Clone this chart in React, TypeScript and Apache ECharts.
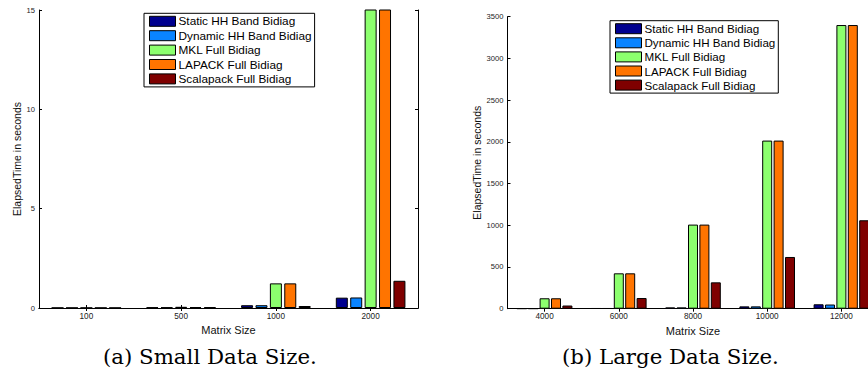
import React, { useEffect, useRef } from "react";
import * as echarts from "echarts";

const seriesNames = [
  "Static HH Band Bidiag",
  "Dynamic HH Band Bidiag",
  "MKL Full Bidiag",
  "LAPACK Full Bidiag",
  "Scalapack Full Bidiag",
];
const colors = ["#00008F", "#0A84FF", "#8CFF6E", "#FF7400", "#7F0000"];

// (a) Small data size
const smallSizes = ["100", "500", "1000", "2000"];
const smallStatic = [0.01, 0.03, 0.14, 0.52];
const smallDynamic = [0.01, 0.03, 0.14, 0.53];
const smallMKL = [0.01, 0.06, 1.24, 16.5];
const smallLAPACK = [0.01, 0.05, 1.24, 16.5];
const smallScalapack = [0.01, 0.04, 0.1, 1.37];
const smallTicks = { min: 0, max: 15, interval: 5 };

// (b) Large data size
const largeSizes = ["4000", "6000", "8000", "10000", "12000"];
const largeStatic = [2, 5, 15, 28, 53];
const largeDynamic = [2, 5, 15, 28, 50];
const largeMKL = [125, 424, 1008, 2015, 3400];
const largeLAPACK = [125, 424, 1008, 2015, 3400];
const largeScalapack = [38, 128, 316, 620, 1060];
const largeTicks = { min: 0, max: 3500, interval: 500 };

const smallData = [smallStatic, smallDynamic, smallMKL, smallLAPACK, smallScalapack];
const largeData = [largeStatic, largeDynamic, largeMKL, largeLAPACK, largeScalapack];

const FONT = "Liberation Sans";

export default function App() {
  const ref = useRef<HTMLDivElement>(null);
  useEffect(() => {
    if (!ref.current) return;
    const chart = echarts.init(ref.current, null, { renderer: "svg" });
    const axisLine = { show: true, lineStyle: { color: "#000", width: 1 } };
    const catAxis = (grid: number, data: string[], top: boolean) => ({
      type: "category",
      gridIndex: grid,
      data,
      position: top ? "top" : "bottom",
      boundaryGap: true,
      axisLine,
      axisTick: { show: true, inside: true, alignWithLabel: true, length: 3, lineStyle: { color: "#000" } },
      axisLabel: top
        ? { show: false }
        : { show: true, color: "#222", fontSize: 8.2, fontFamily: FONT, margin: 4 },
      splitLine: { show: false },
      name: top ? "" : "Matrix Size",
      nameLocation: "middle",
      nameGap: 14,
      nameTextStyle: { color: "#111", fontSize: 11, fontFamily: FONT },
    });
    const valAxis = (grid: number, t: any, right: boolean, nameGap: number) => ({
      type: "value",
      gridIndex: grid,
      position: right ? "right" : "left",
      min: t.min,
      max: t.max,
      interval: t.interval,
      axisLine,
      axisTick: { show: true, inside: true, length: 3, lineStyle: { color: "#000" } },
      axisLabel: right
        ? { show: false }
        : { show: true, color: "#222", fontSize: 7.6, fontFamily: FONT, margin: 4, formatter: (v: number) => String(v) },
      splitLine: { show: false },
      name: right ? "" : "ElapsedTime in seconds",
      nameLocation: "middle",
      nameGap,
      nameTextStyle: { color: "#111", fontSize: 10.5, fontFamily: FONT },
    });

    const series: any[] = [];
    seriesNames.forEach((name, i) => {
      series.push({
        type: "bar",
        name,
        xAxisIndex: 0,
        yAxisIndex: 0,
        data: smallData[i],
        barWidth: 12,
        barGap: "20%",
        clip: true,
        itemStyle: { color: colors[i], borderColor: "#000", borderWidth: 1 },
      });
    });
    seriesNames.forEach((name, i) => {
      series.push({
        type: "bar",
        name,
        xAxisIndex: 2,
        yAxisIndex: 2,
        data: largeData[i],
        barWidth: 10,
        barGap: "14%",
        clip: true,
        itemStyle: { color: colors[i], borderColor: "#000", borderWidth: 1 },
      });
    });

    const legend = (left: number, top: number, fontSize: number, gap: number) => ({
      data: seriesNames.map((n) => ({ name: n, icon: "rect" })),
      orient: "vertical",
      left,
      top,
      itemWidth: 26,
      itemHeight: 10,
      itemGap: gap,
      padding: [2, 3, 2, 5],
      backgroundColor: "#fff",
      borderColor: "#000",
      borderWidth: 1,
      borderRadius: 0,
      selectedMode: false,
      itemStyle: { borderColor: "#000", borderWidth: 1 },
      textStyle: { color: "#000", fontSize, fontFamily: FONT, lineHeight: 12, padding: [0, 0, 0, -2] },
    });

    chart.setOption({
      animation: false,
      backgroundColor: "#fff",
      grid: [
        { left: 39, top: 10, width: 379, height: 298, containLabel: false },
        { left: 507.5, top: 16.7, width: 371, height: 292, containLabel: false },
      ],
      xAxis: [
        catAxis(0, smallSizes, false),
        catAxis(0, smallSizes, true),
        catAxis(1, largeSizes, false),
        catAxis(1, largeSizes, true),
      ],
      yAxis: [
        valAxis(0, smallTicks, false, 17),
        valAxis(0, smallTicks, true, 0),
        valAxis(1, largeTicks, false, 25),
        valAxis(1, largeTicks, true, 0),
      ],
      legend: [legend(144, 13.3, 11.8, 2.4), legend(610, 20.7, 11.6, 2.1)],
      series,
      graphic: [
        {
          type: "text",
          left: 103,
          top: 346,
          style: { text: "(a) Small Data Size.", font: "21.3px 'DejaVu Serif'", fill: "#000" },
        },
        {
          type: "text",
          left: 562,
          top: 346,
          style: { text: "(b) Large Data Size.", font: "21.3px 'DejaVu Serif'", fill: "#000" },
        },
      ],
    });
    return () => chart.dispose();
  }, []);
  return (
    <div style={{ position: "absolute", left: 0, top: 0, width: 868, height: 373, overflow: "hidden", background: "#fff" }}>
      <div ref={ref} style={{ width: 900, height: 373 }} />
    </div>
  );
}
